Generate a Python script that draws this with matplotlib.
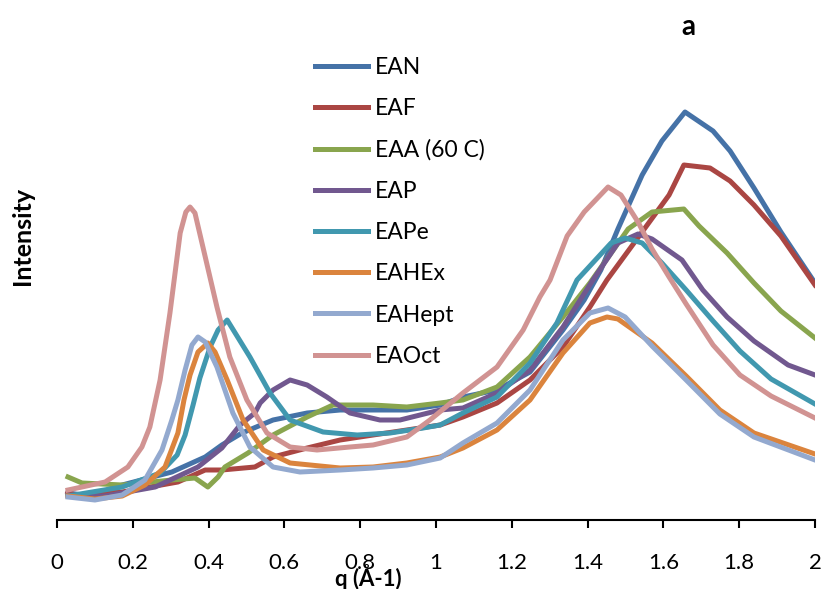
import numpy as np
import matplotlib
matplotlib.use("Agg")
import matplotlib.pyplot as plt

plt.rcParams['font.family'] = ['Lato', 'DejaVu Sans']

# scattering curves, q in A^-1, intensity in arbitrary units
q_ean = [0.029, 0.087, 0.172, 0.303, 0.391, 0.435, 0.488, 0.570, 0.660, 0.747, 0.834, 0.923, 1.011, 1.071,
         1.161, 1.248, 1.335, 1.391, 1.435, 1.480, 1.544, 1.596, 1.657, 1.731, 1.776, 1.839, 1.910, 2.000]
i_ean = [0.27, 0.24, 0.35, 0.48, 0.63, 0.75, 0.87, 1.00, 1.07, 1.10, 1.10, 1.10, 1.15, 1.23,
         1.30, 1.48, 1.90, 2.20, 2.50, 2.91, 3.45, 3.79, 4.08, 3.89, 3.69, 3.32, 2.88, 2.37]

q_eaf = [0.029, 0.047, 0.172, 0.319, 0.391, 0.435, 0.522, 0.570, 0.660, 0.747, 0.834, 0.923, 1.011, 1.071,
         1.161, 1.248, 1.335, 1.406, 1.451, 1.538, 1.615, 1.654, 1.723, 1.776, 1.839, 1.910, 2.000]
i_eaf = [0.28, 0.25, 0.28, 0.38, 0.50, 0.50, 0.53, 0.63, 0.72, 0.80, 0.85, 0.90, 0.95, 1.03,
         1.17, 1.40, 1.73, 2.13, 2.40, 2.85, 3.25, 3.55, 3.52, 3.39, 3.15, 2.84, 2.35]

q_eaa = [0.029, 0.066, 0.172, 0.303, 0.364, 0.398, 0.425, 0.443, 0.504, 0.570, 0.660, 0.728, 0.834, 0.923,
         1.011, 1.071, 1.161, 1.248, 1.335, 1.406, 1.507, 1.570, 1.654, 1.694, 1.768, 1.839, 1.910, 2.000]
i_eaa = [0.43, 0.37, 0.35, 0.40, 0.42, 0.33, 0.43, 0.53, 0.67, 0.85, 1.03, 1.15, 1.15, 1.13,
         1.17, 1.20, 1.33, 1.63, 2.03, 2.37, 2.91, 3.08, 3.11, 2.94, 2.67, 2.37, 2.09, 1.82]

q_eap = [0.029, 0.127, 0.259, 0.372, 0.435, 0.483, 0.522, 0.536, 0.570, 0.615, 0.660, 0.712, 0.773, 0.852,
         0.905, 0.958, 1.011, 1.071, 1.161, 1.248, 1.335, 1.414, 1.480, 1.533, 1.570, 1.649, 1.704, 1.768,
         1.839, 1.929, 2.000]
i_eap = [0.25, 0.24, 0.33, 0.53, 0.72, 0.95, 1.07, 1.17, 1.30, 1.40, 1.35, 1.23, 1.07, 1.00,
         1.00, 1.05, 1.10, 1.12, 1.27, 1.50, 1.93, 2.40, 2.77, 2.86, 2.81, 2.60, 2.30, 2.03,
         1.79, 1.55, 1.45]

q_eape = [0.029, 0.172, 0.272, 0.317, 0.338, 0.359, 0.377, 0.404, 0.425, 0.449, 0.509, 0.562, 0.615, 0.702,
          0.792, 0.879, 0.966, 1.011, 1.071, 1.161, 1.248, 1.319, 1.372, 1.462, 1.499, 1.544, 1.596, 1.660,
          1.731, 1.802, 1.884, 2.000]
i_eape = [0.24, 0.33, 0.47, 0.65, 0.85, 1.15, 1.42, 1.73, 1.90, 2.00, 1.63, 1.27, 1.00, 0.88,
          0.85, 0.87, 0.92, 0.95, 1.07, 1.23, 1.57, 1.97, 2.40, 2.77, 2.82, 2.77, 2.57, 2.30,
          1.99, 1.69, 1.41, 1.16]

q_eahex = [0.029, 0.100, 0.172, 0.232, 0.285, 0.319, 0.335, 0.351, 0.372, 0.398, 0.417, 0.449, 0.491, 0.544,
           0.615, 0.747, 0.834, 0.923, 1.011, 1.071, 1.161, 1.248, 1.335, 1.406, 1.451, 1.480, 1.570, 1.660,
           1.749, 1.839, 2.000]
i_eahex = [0.24, 0.21, 0.24, 0.35, 0.53, 0.87, 1.20, 1.45, 1.68, 1.77, 1.68, 1.40, 1.00, 0.70,
           0.57, 0.52, 0.53, 0.57, 0.63, 0.72, 0.90, 1.20, 1.67, 1.97, 2.03, 2.01, 1.77, 1.44,
           1.10, 0.87, 0.66]

q_eahept = [0.029, 0.100, 0.172, 0.232, 0.277, 0.303, 0.319, 0.338, 0.356, 0.372, 0.391, 0.422, 0.464, 0.509,
            0.570, 0.641, 0.747, 0.834, 0.923, 1.011, 1.071, 1.161, 1.248, 1.335, 1.406, 1.454, 1.499, 1.570,
            1.660, 1.749, 1.839, 2.000]
i_eahept = [0.23, 0.20, 0.25, 0.40, 0.70, 1.00, 1.20, 1.50, 1.75, 1.83, 1.78, 1.53, 1.07, 0.73,
            0.53, 0.48, 0.50, 0.52, 0.55, 0.62, 0.77, 0.97, 1.30, 1.80, 2.07, 2.12, 2.03, 1.74,
            1.40, 1.06, 0.83, 0.60]

q_eaoct = [0.029, 0.127, 0.187, 0.224, 0.245, 0.272, 0.298, 0.325, 0.340, 0.351, 0.364, 0.385, 0.422, 0.456,
           0.501, 0.554, 0.615, 0.686, 0.773, 0.834, 0.923, 0.984, 1.071, 1.161, 1.230, 1.274, 1.301, 1.346,
           1.391, 1.454, 1.488, 1.533, 1.570, 1.615, 1.660, 1.731, 1.802, 1.884, 2.000]
i_eaoct = [0.30, 0.38, 0.53, 0.73, 0.93, 1.40, 2.07, 2.87, 3.08, 3.13, 3.07, 2.73, 2.13, 1.63,
           1.20, 0.87, 0.73, 0.70, 0.73, 0.75, 0.83, 1.00, 1.27, 1.53, 1.90, 2.23, 2.40, 2.84,
           3.08, 3.33, 3.25, 2.98, 2.71, 2.43, 2.16, 1.75, 1.45, 1.24, 1.02]

series = [
    ("EAN", q_ean, i_ean, "#4572A7"),
    ("EAF", q_eaf, i_eaf, "#AA4643"),
    ("EAA (60 C)", q_eaa, i_eaa, "#89A54E"),
    ("EAP", q_eap, i_eap, "#71588F"),
    ("EAPe", q_eape, i_eape, "#4198AF"),
    ("EAHEx", q_eahex, i_eahex, "#DB843D"),
    ("EAHept", q_eahept, i_eahept, "#93A9CF"),
    ("EAOct", q_eaoct, i_eaoct, "#D19392"),
]

fig = plt.figure(figsize=(8.22, 5.89), dpi=100)
ax = fig.add_axes([57 / 822, 69 / 589, 758 / 822, 510 / 589])

for name, q, inten, col in series:
    ax.plot(q, inten, color=col, lw=3.6, label=name, solid_joinstyle='round')

ax.set_xlim(0, 2)
ax.set_ylim(0, 5.1)
ax.set_xticks(np.arange(0, 2.01, 0.2))
ax.set_xticklabels(["0", "0.2", "0.4", "0.6", "0.8", "1", "1.2", "1.4", "1.6", "1.8", "2"])
ax.set_yticks([])
for s in ["top", "right", "left"]:
    ax.spines[s].set_visible(False)
ax.spines["bottom"].set_linewidth(1.5)
ax.tick_params(axis="x", direction="out", length=6, width=1.5, pad=18, labelsize=16)

ax.legend(loc="upper left", bbox_to_anchor=(315 / 822, 1 - 57 / 589), bbox_transform=fig.transFigure,
          frameon=False, fontsize=16.5, handlelength=2.3, handletextpad=0.32, labelspacing=0.88,
          borderaxespad=0, borderpad=0)

fig.text(368 / 822, 1 - 577 / 589, "q (Å-1)", ha="center", va="center", fontsize=16, fontweight="bold")
fig.text(22 / 822, 1 - 236 / 589, "Intensity", ha="center", va="center", rotation=90,
         fontsize=18, fontweight="bold")
fig.text(688 / 822, 1 - 27 / 589, "a", ha="center", va="center", fontsize=20, fontweight="bold")

fig.savefig("out.png", dpi=100)
